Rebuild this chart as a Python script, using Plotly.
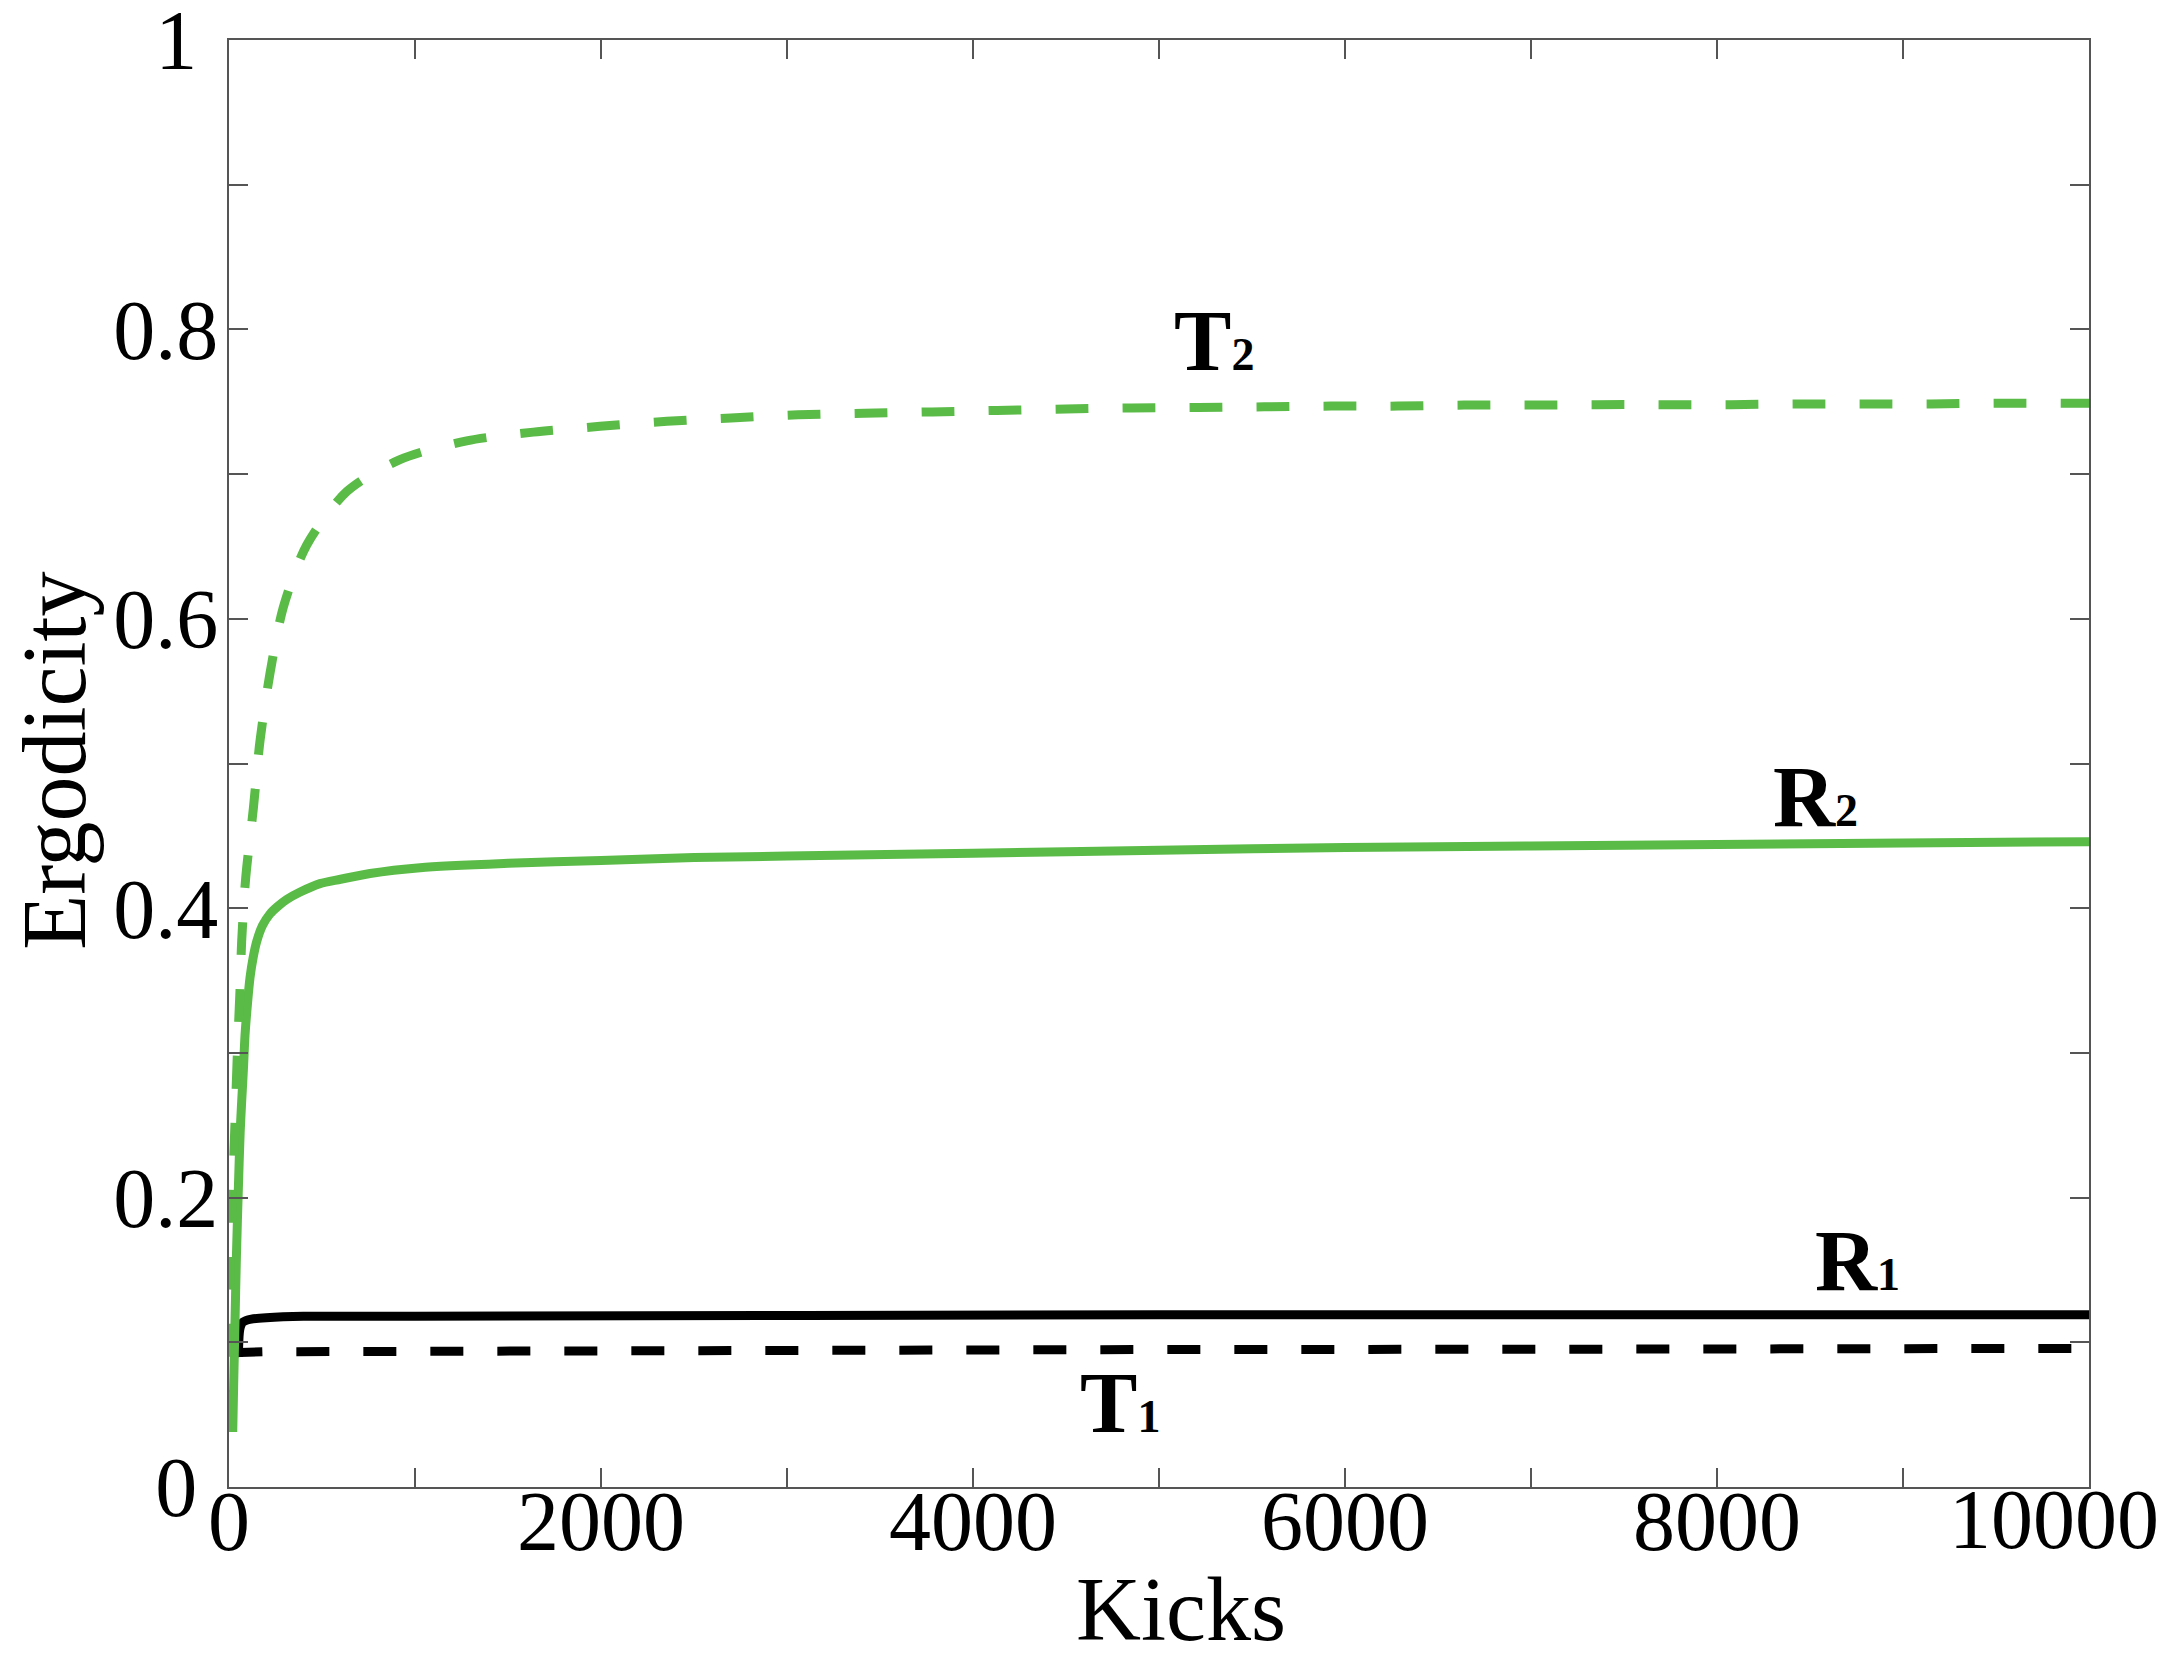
"""Ergodicity vs kicks, recreated with Plotly."""
import plotly.graph_objects as go

# ---- data --------------------------------------------------------------------

r2_kicks = [20, 25, 32, 40, 50, 60, 68, 78, 86, 100, 113, 130, 149, 180, 220, 260,
            310, 380, 489, 600, 758, 1027, 1500, 2000, 2500, 3000, 4000, 5000,
            6000, 7000, 8000, 9000, 10000]
r2_vals = [0.038, 0.07, 0.112, 0.16, 0.205, 0.245, 0.266, 0.29, 0.312, 0.335, 0.352,
           0.366, 0.377, 0.388, 0.396, 0.401, 0.406, 0.411, 0.417, 0.420, 0.424,
           0.428, 0.431, 0.433, 0.435, 0.436, 0.438, 0.440, 0.442, 0.443, 0.444,
           0.445, 0.446]

t2_kicks = [1, 5, 15, 32, 45, 59, 68, 86, 95, 131, 167, 220, 292, 418, 634, 919,
            1278, 1636, 1995, 2355, 2699, 3059, 3414, 3780, 4129, 4500, 4850, 5210,
            5565, 5925, 6285, 6640, 7000, 7355, 7720, 8075, 8435, 8795, 9150, 9505,
            9865, 10000]
t2_vals = [0.09, 0.143, 0.19, 0.251, 0.30, 0.343, 0.377, 0.415, 0.428, 0.469, 0.516,
           0.562, 0.608, 0.651, 0.688, 0.710, 0.723, 0.729, 0.733, 0.7365, 0.7388,
           0.741, 0.742, 0.743, 0.744, 0.745, 0.7457, 0.746, 0.7465, 0.747, 0.747,
           0.7477, 0.7477, 0.748, 0.748, 0.748, 0.7485, 0.7485, 0.7485, 0.749,
           0.749, 0.749]

r1_kicks = [50, 54, 58, 65, 75, 90, 120, 200, 400, 1000, 5000, 10000]
r1_vals = [0.09, 0.104, 0.109, 0.112, 0.114, 0.115, 0.116, 0.117, 0.118, 0.118,
           0.119, 0.119]

t1_kicks = [0, 3, 8, 20, 60, 200, 1000, 3000, 5000, 7000, 9000, 10000]
t1_vals = [0.044, 0.08, 0.09, 0.092, 0.093, 0.0935, 0.094, 0.0945, 0.095, 0.0952,
           0.0955, 0.0958]

# curve labels: name, subscript, x (kicks), y
labels = [("T", "2", 5296, 0.792),
          ("R", "2", 8532, 0.477),
          ("R", "1", 8753, 0.156),
          ("T", "1", 4790, 0.058)]

x_ticks = list(range(0, 10001, 1000))
# last label is drawn separately (pulled inside the page like the original)
x_ticktext = ["0", "", "2000", "", "4000", "", "6000", "", "8000", "", ""]
x_last_label = "10000"
y_ticks = [i / 10 for i in range(11)]
y_ticktext = ["0\u00a0", "", "0.2", "", "0.4", "", "0.6", "", "0.8", "", "1\u00a0"]

GREEN = "#5ABB47"
FONT = "Liberation Serif"
DASH = "33px,34px"
LW = 9

fig = go.Figure()
fig.add_trace(go.Scatter(x=t1_kicks, y=t1_vals, mode="lines",
                         line=dict(color="black", width=LW, dash=DASH)))
fig.add_trace(go.Scatter(x=r1_kicks, y=r1_vals, mode="lines",
                         line=dict(color="black", width=LW, shape="spline", smoothing=0.6)))
fig.add_trace(go.Scatter(x=r2_kicks, y=r2_vals, mode="lines",
                         line=dict(color=GREEN, width=LW, shape="spline", smoothing=0.8)))
fig.add_trace(go.Scatter(x=t2_kicks, y=t2_vals, mode="lines",
                         line=dict(color=GREEN, width=LW, dash=DASH,
                                   shape="spline", smoothing=0.8)))

for name, sub, x, y in labels:
    fig.add_annotation(x=x, y=y, xref="x", yref="y", showarrow=False,
                       text=f"<b>{name}<span style='font-size:46px'>{sub}</span></b>",
                       font=dict(family=FONT, size=86, color="black"),
                       xanchor="center", yanchor="middle")

fig.add_annotation(x=x_ticks[-1], y=0, xref="x", yref="paper", showarrow=False,
                   text=x_last_label, font=dict(family=FONT, size=84, color="black"),
                   xanchor="center", yanchor="middle", xshift=-35, yshift=-32)

# axis titles
fig.add_annotation(x=0.512, y=-0.085, xref="paper", yref="paper", showarrow=False,
                   text="Kicks", font=dict(family=FONT, size=90, color="black"),
                   xanchor="center", yanchor="middle")
fig.add_annotation(x=-0.094, y=0.502, xref="paper", yref="paper", showarrow=False,
                   text="Ergodicity", textangle=-90,
                   font=dict(family=FONT, size=90, color="black"),
                   xanchor="center", yanchor="middle")

axis_style = dict(showline=True, linecolor="#555", linewidth=2, mirror="ticks",
                  ticks="inside", ticklen=19, tickwidth=2, tickcolor="#555",
                  showgrid=False, zeroline=False, ticklabeloverflow="allow",
                  tickfont=dict(family=FONT, size=84, color="black"))

# the page body adds an 8px offset, so margins are shifted to compensate
fig.update_layout(
    width=2167,
    height=1668,
    margin=dict(l=221, r=86, t=32, b=189),
    plot_bgcolor="white",
    paper_bgcolor="white",
    showlegend=False,
    xaxis=dict(range=[0, 10000], tickvals=x_ticks, ticktext=x_ticktext,
               automargin=False, ticklabelstandoff=-40, **axis_style),
    yaxis=dict(range=[0, 1], tickvals=y_ticks, ticktext=y_ticktext,
               automargin=False, ticklabelstandoff=-8, **axis_style),
)

fig.write_html("out.html")
